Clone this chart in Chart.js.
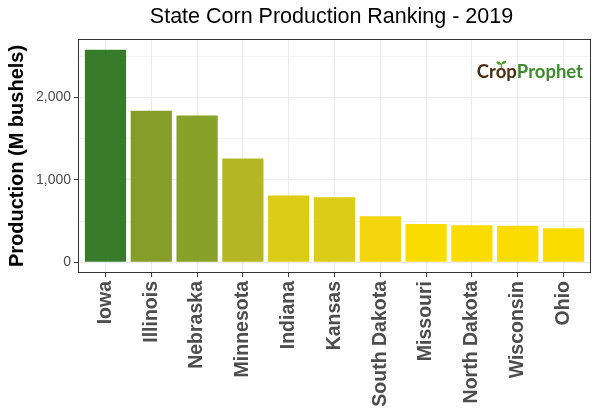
<!DOCTYPE html>
<html><head><meta charset="utf-8">
<script src="https://cdn.jsdelivr.net/npm/chart.js@4"></script>
<style>html,body{margin:0;padding:0;background:#fff}#wrap{width:600px;height:420px;position:relative}</style>
</head><body><div id="wrap"><canvas id="c" width="600" height="420"></canvas></div>
<script>
const states = ['Iowa','Illinois','Nebraska','Minnesota','Indiana','Kansas','South Dakota','Missouri','North Dakota','Wisconsin','Ohio'];
const production = [2580,1840,1780,1260,810,790,560,465,450,445,415];
const barColors = ['#387C2B','#869D2A','#87A129','#B4B722','#DCCC17','#DCCC18','#F2D50C','#FBDC00','#FBDC00','#FBDC00','#FBDC00'];
const yTicks = [0,500,1000,1500,2000,2500];
const yLabeled = [0,1000,2000];
const titleText = 'State Corn Production Ranking - 2019';
const yTitleText = 'Production (M bushels)';
const logoParts = ['Crop','Prophet'];

const FONT = '"Liberation Sans", Arial, Helvetica, sans-serif';
const dataMax = Math.max(...production);
const yMax = dataMax * 1.05;
const yMin = -dataMax * 0.05;

const decor = {
  id: 'decor',
  afterDatasetsDraw(chart) {
    const {ctx, chartArea: a} = chart;
    ctx.save();
    ctx.strokeStyle = '#333333';
    ctx.lineWidth = 1;
    ctx.strokeRect(Math.round(a.left) + 0.5, Math.round(a.top) + 0.5, Math.round(a.right - a.left) - 1, Math.round(a.bottom - a.top) - 1);
    ctx.restore();
  },
  afterDraw(chart) {
    const {ctx, chartArea: a} = chart;
    ctx.save();
    ctx.fillStyle = '#000';
    ctx.font = '21.5px ' + FONT;
    ctx.textAlign = 'center';
    ctx.textBaseline = 'middle';
    ctx.fillText(titleText, (a.left + a.right) / 2 - 3, 17);
    // logo
    ctx.font = 'bold 18.5px Lato, "Open Sans", sans-serif';
    ctx.textAlign = 'left';
    ctx.textBaseline = 'alphabetic';
    const w1 = ctx.measureText(logoParts[0]).width;
    const w2 = ctx.measureText(logoParts[1]).width;
    const wCr = ctx.measureText('Cr').width;
    const wO = ctx.measureText('o').width;
    const xEnd = a.right - 8;
    const x0 = xEnd - w1 - w2;
    const base = 78;
    ctx.fillStyle = '#4A2C10';
    ctx.fillText(logoParts[0], x0, base);
    ctx.fillStyle = '#3D8B2F';
    ctx.fillText(logoParts[1], x0 + w1, base);
    // sprout over the "o"
    const sx = x0 + wCr + wO / 2;
    const sy = base - 10;
    ctx.strokeStyle = '#4E9A2C';
    ctx.lineWidth = 1.2;
    ctx.beginPath(); ctx.moveTo(sx, sy); ctx.lineTo(sx, sy - 4); ctx.stroke();
    ctx.fillStyle = '#4E9A2C';
    ctx.beginPath(); ctx.ellipse(sx - 2.5, sy - 5, 2.6, 1.3, Math.PI / 6, 0, Math.PI * 2); ctx.fill();
    ctx.beginPath(); ctx.ellipse(sx + 2.5, sy - 5.5, 2.6, 1.3, -Math.PI / 6, 0, Math.PI * 2); ctx.fill();
    ctx.restore();
  }
};

new Chart(document.getElementById('c').getContext('2d'), {
  type: 'bar',
  data: {
    datasets: [{
      data: states.map((s, i) => ({x: i, y: production[i]})),
      backgroundColor: barColors,
      borderWidth: 0,
      barPercentage: 0.9,
      categoryPercentage: 1
    }]
  },
  options: {
    responsive: false,
    animation: false,
    layout: {padding: {left: 0, right: 9, top: 39, bottom: 0}},
    plugins: {legend: {display: false}, tooltip: {enabled: false}, title: {display: false}},
    scales: {
      x: {
        type: 'linear',
        offset: false,
        min: -0.6,
        max: states.length - 1 + 0.6,
        afterBuildTicks: s => { s.ticks = states.map((_, i) => ({value: i})); },
        afterFit: s => { s.height = 147; },
        ticks: {
          autoSkip: false, minRotation: 90, maxRotation: 90, padding: 4,
          color: '#4D4D4D',
          font: {family: FONT, size: 19.5, weight: 'bold'},
          callback: v => states[v]
        },
        grid: {offset: false, color: '#EBEBEB', lineWidth: 1.1, tickLength: 4, tickColor: '#333333', tickWidth: 1},
        border: {display: false}
      },
      y: {
        min: yMin,
        max: yMax,
        afterBuildTicks: s => { s.ticks = yTicks.map(v => ({value: v})); },
        afterFit: s => { s.width = 78; },
        ticks: {
          padding: 3, color: '#4D4D4D',
          font: {family: FONT, size: 14},
          callback: v => yLabeled.includes(v) ? v.toLocaleString('en-US') : ''
        },
        grid: {
          color: '#EBEBEB',
          lineWidth: c => (c.tick && yLabeled.includes(c.tick.value)) ? 1.1 : 0.55,
          tickLength: 4,
          tickColor: c => (c.tick && yLabeled.includes(c.tick.value)) ? '#333333' : 'rgba(0,0,0,0)',
          tickWidth: 1
        },
        border: {display: false},
        title: {
          display: true, text: yTitleText, color: '#000',
          font: {family: FONT, size: 20, weight: 'bold'},
          padding: {top: 5, bottom: 0}
        }
      }
    }
  },
  plugins: [decor]
});
</script></body></html>
